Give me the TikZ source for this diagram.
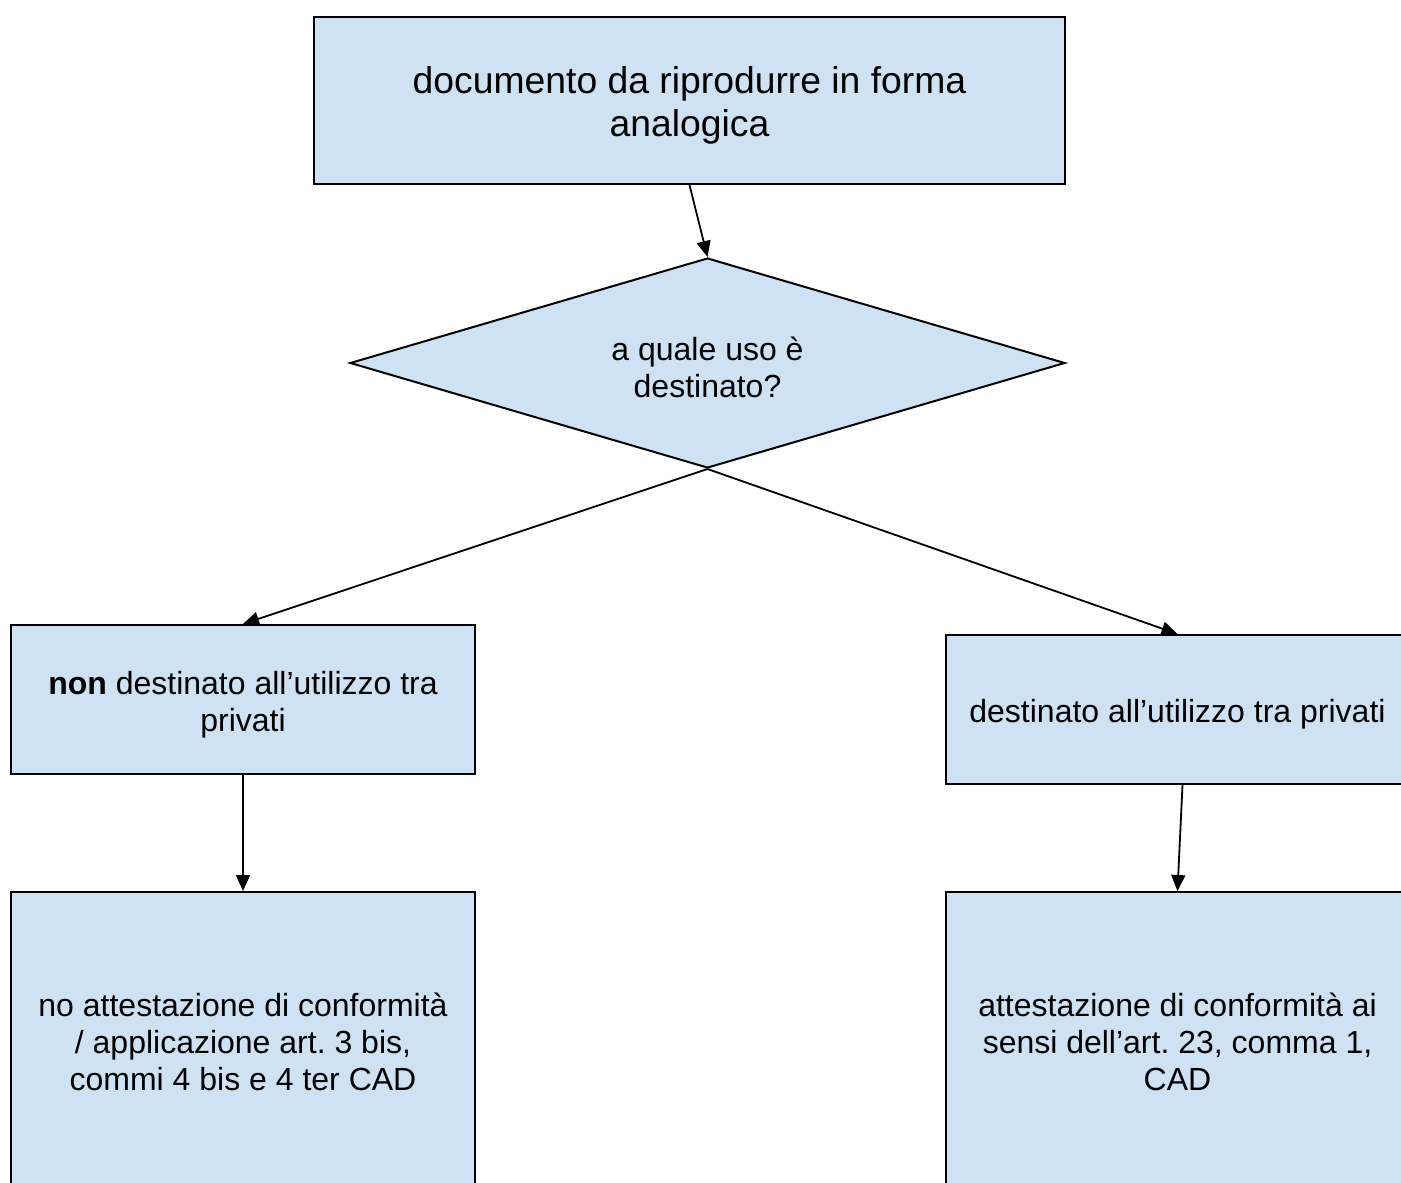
\documentclass[tikz,border=0pt]{standalone}
\usepackage{fontspec}
\setmainfont{Liberation Sans}
\usetikzlibrary{shapes.geometric,arrows.meta}
\definecolor{boxblue}{HTML}{CFE2F3}
\newcommand{\lowr}{\rule{0pt}{33pt}}
\frenchspacing
\begin{document}
\begin{tikzpicture}[x=1pt,y=-1pt,
  flowbox/.style={draw=black,line width=2pt,fill=boxblue,inner sep=0pt,align=center,
    font=\fontsize{32}{36.8}\selectfont},
  conn/.style={line width=1.8pt,-{Triangle[length=16pt,width=14pt]}}]
\useasboundingbox (0,0) rectangle (1401,1183);
\clip (0,0) rectangle (1401,1183);
\fill[white] (0,0) rectangle (1401,1183);
\node[flowbox,minimum width=751pt,minimum height=167pt,font=\fontsize{37.3}{43}\selectfont] (top) at (689.5,100.5)
  {\rule{0pt}{37.5pt}documento da riprodurre in forma\\analogica};
\node[flowbox,diamond,aspect=3.4,minimum width=715pt,minimum height=210pt] (dia) at (707.5,363)
  {\lowr a quale uso è\\destinato?};
\node[flowbox,minimum width=464pt,minimum height=149pt] (lb) at (243,699.5)
  {\lowr\textbf{non} destinato all’utilizzo tra\\privati};
\node[flowbox,minimum width=463pt,minimum height=149pt] (rb) at (1177.5,709.5)
  {\lowr destinato all’utilizzo tra privati};
\node[flowbox,minimum width=464pt,minimum height=300pt] (blb) at (243,1042)
  {no attestazione di conformità\\/ applicazione art. 3 bis,\\commi 4 bis e 4 ter CAD};
\node[flowbox,minimum width=463pt,minimum height=300pt] (brb) at (1177.5,1042)
  {attestazione di conformità ai\\sensi dell’art. 23, comma 1,\\CAD};
\draw[conn] (top.south) -- (dia.north);
\draw[conn] (dia.south) -- (lb.north);
\draw[conn] (dia.south) -- (rb.north);
\draw[conn] (lb.south) -- (blb.north);
\draw[conn] ([xshift=5pt]rb.south) -- (brb.north);
\end{tikzpicture}
\end{document}
